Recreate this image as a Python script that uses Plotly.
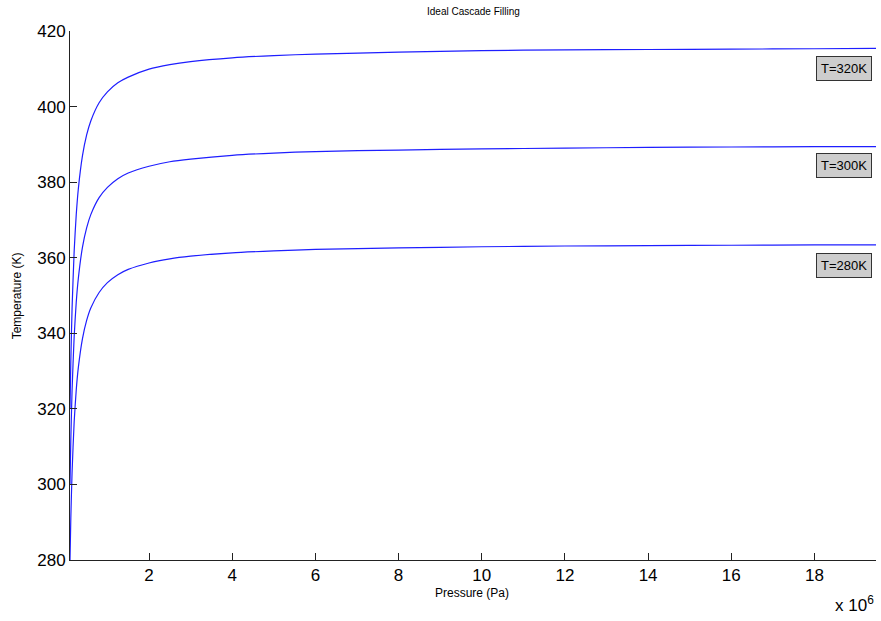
import plotly.graph_objects as go

# Pressure samples (Pa)
pressure = [0.10e6, 0.12e6, 0.15e6, 0.20e6, 0.25e6, 0.30e6, 0.40e6, 0.50e6, 0.60e6,
            0.80e6, 1.0e6, 1.25e6, 1.5e6, 2.0e6, 2.5e6, 3.0e6, 4.0e6, 5.0e6, 6.0e6,
            8.0e6, 10.0e6, 12.0e6, 14.0e6, 16.0e6, 18.0e6, 19.48e6]

# Temperature (K)
temp_320 = [320.0, 332.8, 346.7, 361.7, 371.4, 378.2, 387.0, 392.5, 396.2,
            401.0, 403.9, 406.3, 407.8, 409.9, 411.1, 411.9, 412.9, 413.5, 413.9,
            414.4, 414.8, 415.0, 415.1, 415.2, 415.3, 415.4]
temp_300 = [300.0, 312.0, 325.0, 339.1, 348.2, 354.5, 362.8, 367.9, 371.4,
            375.9, 378.6, 380.9, 382.4, 384.2, 385.4, 386.1, 387.1, 387.7, 388.1,
            388.5, 388.8, 389.0, 389.2, 389.3, 389.4, 389.4]
temp_280 = [280.0, 291.2, 303.3, 316.5, 325.0, 330.9, 338.6, 343.4, 346.7,
            350.8, 353.4, 355.5, 356.9, 358.6, 359.7, 360.4, 361.3, 361.8, 362.2,
            362.6, 362.9, 363.1, 363.2, 363.3, 363.4, 363.4]

series_names = ["T=320K", "T=300K", "T=280K"]
label_y = [410.1, 384.3, 358.0]

x_tickvals = [2e6, 4e6, 6e6, 8e6, 10e6, 12e6, 14e6, 16e6, 18e6]
x_ticktext = ["2", "4", "6", "8", "10", "12", "14", "16", "18"]
y_tickvals = [280, 300, 320, 340, 360, 380, 400, 420]

FONT = "Liberation Sans, Arial, Helvetica, sans-serif"
LINE = "rgb(30,30,255)"

fig = go.Figure()
for name, ys in zip(series_names, [temp_320, temp_300, temp_280]):
    fig.add_trace(go.Scatter(x=pressure, y=ys, mode="lines", name=name,
                             line=dict(color=LINE, width=1.2, shape="spline", smoothing=0.6),
                             showlegend=False, hoverinfo="skip"))

annotations = []
for name, ly in zip(series_names, label_y):
    annotations.append(dict(x=18.7e6, y=ly, xref="x", yref="y", text=name, showarrow=False,
                            font=dict(family=FONT, size=13, color="black"),
                            bgcolor="#cdcdcd", bordercolor="#333333", borderwidth=1,
                            borderpad=4, xanchor="center", yanchor="middle"))

annotations += [
    dict(x=0.5, y=1.036, xref="paper", yref="paper", text="Ideal Cascade Filling",
         showarrow=False, font=dict(family="Liberation Sans Narrow, " + FONT, size=10, color="black"),
         xanchor="center", yanchor="middle"),
    dict(x=0.499, y=-0.063, xref="paper", yref="paper", text="Pressure (Pa)",
         showarrow=False, font=dict(family=FONT, size=12, color="black"),
         xanchor="center", yanchor="middle"),
    dict(x=-0.066, y=0.5, xref="paper", yref="paper", text="Temperature (K)",
         showarrow=False, textangle=-90, font=dict(family=FONT, size=12, color="black"),
         xanchor="center", yanchor="middle"),
    dict(x=1.0, y=-0.083, xref="paper", yref="paper", text="x 10<sup>6</sup>",
         showarrow=False, font=dict(family=FONT, size=17, color="black"),
         xanchor="right", yanchor="middle"),
]

fig.update_layout(
    width=881, height=621,
    margin=dict(l=70, r=5, t=31, b=61),
    paper_bgcolor="white", plot_bgcolor="white",
    annotations=annotations,
    font=dict(family=FONT, size=17, color="black"),
    xaxis=dict(range=[0.1e6, 19.48e6], tickvals=x_tickvals, ticktext=x_ticktext,
               showgrid=False, zeroline=False, showline=True, linecolor="#222222", linewidth=1,
               ticks="inside", ticklen=7, tickcolor="#222222", tickfont=dict(size=17, family=FONT)),
    yaxis=dict(range=[280, 420], tickvals=y_tickvals,
               showgrid=False, zeroline=False, showline=True, linecolor="#222222", linewidth=1,
               ticks="inside", ticklen=7, tickcolor="#222222", tickfont=dict(size=17, family=FONT)),
)

fig.write_html("out.html")
